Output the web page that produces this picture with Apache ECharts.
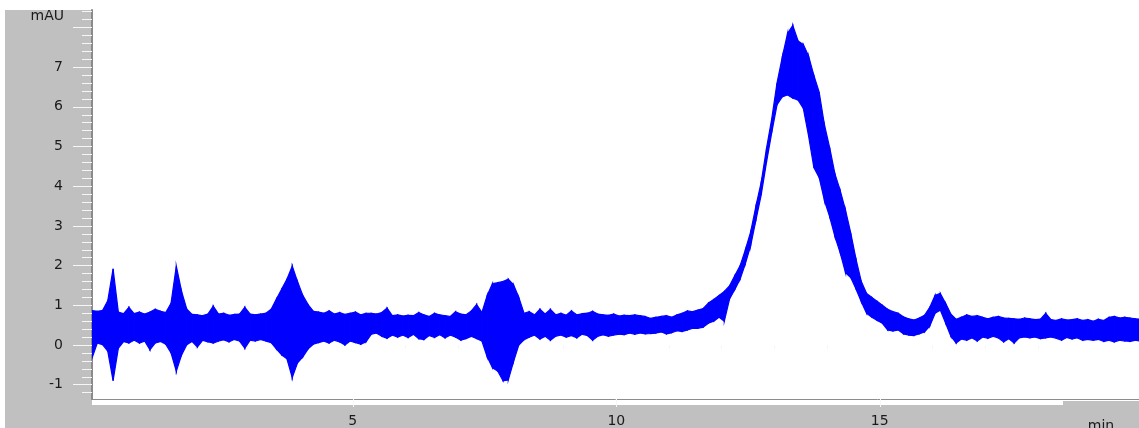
<!DOCTYPE html>
<html><head><meta charset="utf-8">
<script src="https://cdn.jsdelivr.net/npm/echarts@6/dist/echarts.min.js"></script>
<style>html,body{margin:0;padding:0;background:#fff}#c{width:1139px;height:428px}</style>
</head><body><div id="c"></div>
<script>
// Sampling grid of the trace (minutes)
const startMin = 0.05, stepMin = 0.1;
// Upper envelope of the noisy absorbance trace (mAU), one value per 0.1 min
const upper = [
  0.87, 0.85, 0.87, 1.12, 1.92, 0.83, 0.79, 0.95, 0.79, 0.83,
  0.78, 0.83, 0.90, 0.85, 0.82, 1.05, 1.99, 1.35, 0.90, 0.77,
  0.76, 0.74, 0.78, 0.98, 0.78, 0.80, 0.75, 0.77, 0.78, 0.95,
  0.78, 0.76, 0.78, 0.80, 0.90, 1.16, 1.41, 1.66, 1.99, 1.60,
  1.25, 1.02, 0.85, 0.83, 0.80, 0.86, 0.78, 0.82, 0.77, 0.80,
  0.83, 0.76, 0.80, 0.80, 0.78, 0.82, 0.93, 0.74, 0.76, 0.73,
  0.75, 0.74, 0.82, 0.76, 0.72, 0.80, 0.76, 0.74, 0.72, 0.84,
  0.78, 0.76, 0.86, 1.02, 0.82, 1.25, 1.55, 1.57, 1.60, 1.66,
  1.52, 1.20, 0.80, 0.84, 0.76, 0.90, 0.78, 0.90, 0.76, 0.80,
  0.75, 0.86, 0.76, 0.79, 0.80, 0.85, 0.78, 0.76, 0.75, 0.78,
  0.73, 0.75, 0.74, 0.76, 0.74, 0.72, 0.67, 0.70, 0.72, 0.74,
  0.70, 0.76, 0.80, 0.86, 0.84, 0.88, 0.92, 1.06, 1.15, 1.25,
  1.35, 1.49, 1.75, 2.00, 2.40, 2.85, 3.50, 4.10, 4.95, 5.70,
  6.60, 7.25, 7.85, 8.05, 7.66, 7.57, 7.28, 6.79, 6.37, 5.55,
  4.97, 4.31, 3.89, 3.40, 2.82, 2.16, 1.60, 1.30, 1.20, 1.10,
  1.00, 0.90, 0.84, 0.80, 0.71, 0.66, 0.63, 0.68, 0.75, 0.95,
  1.25, 1.30, 1.05, 0.78, 0.65, 0.70, 0.76, 0.72, 0.74, 0.70,
  0.66, 0.70, 0.72, 0.68, 0.67, 0.66, 0.65, 0.68, 0.66, 0.64,
  0.65, 0.80, 0.64, 0.62, 0.66, 0.63, 0.64, 0.66, 0.62, 0.64,
  0.60, 0.65, 0.62, 0.70, 0.72, 0.68, 0.70, 0.68, 0.66, 0.65
];
// Lower envelope of the trace (mAU)
const lower = [
  -0.33, 0.05, 0.01, -0.16, -0.90, -0.08, 0.09, 0.05, 0.12, 0.05,
  0.10, -0.12, 0.05, 0.09, 0.02, -0.20, -0.66, -0.25, 0.01, 0.09,
  -0.05, 0.12, 0.08, 0.05, 0.10, 0.13, 0.08, 0.14, 0.10, -0.08,
  0.12, 0.10, 0.14, 0.10, 0.06, -0.10, -0.25, -0.35, -0.82, -0.45,
  -0.30, -0.10, 0.02, 0.06, 0.10, 0.05, 0.12, 0.08, 0.00, 0.10,
  0.06, 0.02, 0.08, 0.27, 0.30, 0.22, 0.17, 0.25, 0.20, 0.25,
  0.19, 0.27, 0.16, 0.14, 0.24, 0.19, 0.26, 0.18, 0.25, 0.20,
  0.12, 0.16, 0.22, 0.16, 0.10, -0.30, -0.57, -0.66, -0.90, -0.88,
  -0.42, 0.00, 0.13, 0.20, 0.25, 0.15, 0.22, 0.12, 0.22, 0.25,
  0.20, 0.24, 0.18, 0.27, 0.24, 0.12, 0.22, 0.26, 0.22, 0.25,
  0.27, 0.26, 0.30, 0.27, 0.30, 0.28, 0.29, 0.30, 0.33, 0.28,
  0.31, 0.36, 0.34, 0.38, 0.42, 0.42, 0.45, 0.55, 0.60, 0.70,
  0.60, 1.16, 1.40, 1.66, 2.05, 2.50, 3.15, 3.78, 4.60, 5.35,
  6.05, 6.25, 6.30, 6.22, 6.17, 5.96, 5.26, 4.47, 4.22, 3.64,
  3.23, 2.73, 2.32, 1.82, 1.70, 1.41, 1.09, 0.80, 0.70, 0.62,
  0.55, 0.38, 0.35, 0.38, 0.28, 0.25, 0.24, 0.28, 0.33, 0.48,
  0.80, 0.88, 0.55, 0.22, 0.05, 0.15, 0.12, 0.18, 0.10, 0.20,
  0.17, 0.22, 0.18, 0.08, 0.16, 0.05, 0.18, 0.20, 0.18, 0.20,
  0.16, 0.18, 0.20, 0.17, 0.12, 0.19, 0.15, 0.18, 0.12, 0.14,
  0.12, 0.14, 0.09, 0.12, 0.08, 0.12, 0.10, 0.09, 0.12, 0.10
];
const xLabelValues = [5, 10, 15];
const xMinorTicks = [1, 2, 3, 4, 6, 7, 8, 9, 11, 12, 13, 14, 16, 17, 18];
const yLabelValues = [-1, 0, 1, 2, 3, 4, 5, 6, 7];
const yMajorTicks = [-1, 0, 1, 2, 3, 4, 5, 6, 7, 8];
const yUnit = 'mAU';
const xUnit = 'min';

const minutes = upper.map((_, i) => +(startMin + i * stepMin).toFixed(2));
const yMinorTicks = [];
for (let k = -6; k <= 42; k++) { if (k % 5 !== 0) yMinorTicks.push(+(k * 0.2).toFixed(1)); }
const traceData = minutes.map((t, i) => [t, upper[i], lower[i]]);

const X_MIN = 0.05, X_MAX = 19.92, Y_MIN = -1.36, Y_MAX = 8.44;
const GRAY = '#c0c0c0', TICK = '#f6f6f6', TXT = '#1a1a1a';
const FONT = 'DejaVu Sans';

const chart = echarts.init(document.getElementById('c'), null, {renderer: 'canvas'});
chart.setOption({
  animation: false,
  backgroundColor: '#ffffff',
  grid: {left: 92, right: 0, top: 10, bottom: 23, containLabel: false},
  graphic: [
    {type: 'rect', z: -10, shape: {x: 5, y: 10, width: 87, height: 418}, style: {fill: GRAY}, silent: true},
    {type: 'rect', z: -10, shape: {x: 5, y: 405, width: 1134, height: 23}, style: {fill: GRAY}, silent: true},
    {type: 'rect', z: 100, shape: {x: 1063, y: 401, width: 76, height: 27}, style: {fill: GRAY}, silent: true},
    {type: 'text', z: 101, x: 1101, y: 419, style: {text: xUnit, fill: TXT, font: '14px "DejaVu Sans"', align: 'center', verticalAlign: 'top'}, silent: true}
  ],
  xAxis: [
    {type: 'value', min: X_MIN, max: X_MAX, position: 'bottom',
     axisLine: {show: true, onZero: false, lineStyle: {color: '#8c8c8c', width: 1}},
     axisTick: {show: true, customValues: xLabelValues, length: 8, lineStyle: {color: TICK, width: 1}},
     axisLabel: {show: true, customValues: xLabelValues, margin: 15, fontSize: 14, fontFamily: FONT, color: TXT},
     splitLine: {show: false}},
    {type: 'value', min: X_MIN, max: X_MAX, position: 'bottom', offset: 0,
     axisLine: {show: false},
     axisTick: {show: true, customValues: xMinorTicks, length: 4, lineStyle: {color: TICK, width: 1}},
     axisLabel: {show: false}, splitLine: {show: false}}
  ],
  yAxis: [
    {type: 'value', min: Y_MIN, max: Y_MAX, position: 'left',
     name: yUnit, nameLocation: 'end', nameGap: -6,
     nameTextStyle: {align: 'right', verticalAlign: 'middle', padding: [0, 28, 0, 0], fontSize: 14, fontFamily: FONT, color: TXT},
     axisLine: {show: true, onZero: false, lineStyle: {color: '#8a8a8a', width: 2}},
     axisTick: {show: true, customValues: yMajorTicks, length: 19, lineStyle: {color: TICK, width: 1}},
     axisLabel: {show: true, customValues: yLabelValues, margin: 29, fontSize: 14, fontFamily: FONT, color: TXT},
     splitLine: {show: false}},
    {type: 'value', min: Y_MIN, max: Y_MAX, position: 'left', offset: 0,
     axisLine: {show: false},
     axisTick: {show: true, customValues: yMinorTicks, length: 10, lineStyle: {color: TICK, width: 1}},
     axisLabel: {show: false}, splitLine: {show: false}}
  ],
  series: [{
    type: 'custom',
    xAxisIndex: 0, yAxisIndex: 0,
    clip: true,
    data: traceData,
    encode: {x: 0, y: [1, 2]},
    renderItem: function (params, api) {
      const i = params.dataIndexInside;
      if (i >= params.dataInsideLength - 1) return null;
      const t0 = api.value(0, i), u0 = api.value(1, i), l0 = api.value(2, i);
      const t1 = api.value(0, i + 1), u1 = api.value(1, i + 1), l1 = api.value(2, i + 1);
      const pts = [api.coord([t0, u0]), api.coord([t1, u1]), api.coord([t1, l1]), api.coord([t0, l0])];
      return {
        type: 'polygon',
        shape: {points: pts},
        style: {fill: '#0000ff', stroke: '#0000ff', lineWidth: 1.2}
      };
    }
  }]
});
</script>
</body></html>
